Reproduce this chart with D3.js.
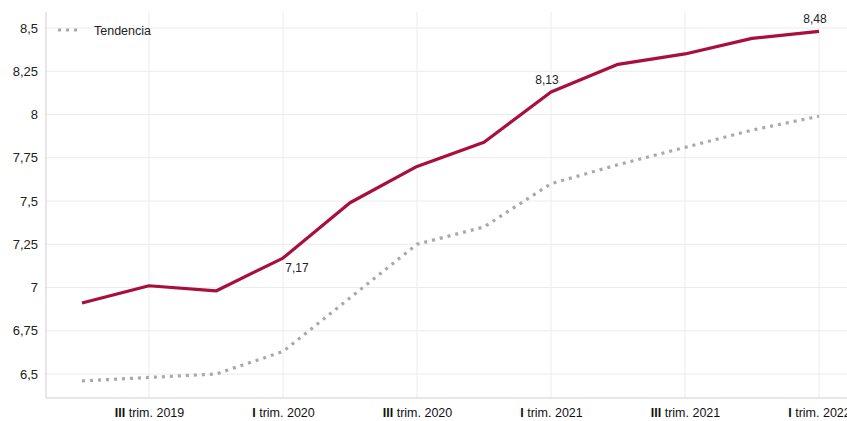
<!DOCTYPE html>
<html><head><meta charset="utf-8">
<script src="https://cdn.jsdelivr.net/npm/d3@7"></script>
<style>body{margin:0;background:#fff}svg{display:block;font-family:"Liberation Sans",Arial,sans-serif}</style>
</head><body><svg id="c" width="847" height="421"></svg>
<script>
const periods = ["II trim. 2019","III trim. 2019","IV trim. 2019","I trim. 2020","II trim. 2020","III trim. 2020","IV trim. 2020","I trim. 2021","II trim. 2021","III trim. 2021","IV trim. 2021","I trim. 2022"];
const valores = [6.91,7.01,6.98,7.17,7.49,7.70,7.84,8.13,8.29,8.35,8.44,8.48];
const tendencia = [6.46,6.48,6.50,6.63,6.94,7.25,7.35,7.60,7.71,7.81,7.91,7.99];
const yTicks = [6.5,6.75,7,7.25,7.5,7.75,8,8.25,8.5];
const xTickLabels = ["III trim. 2019","I trim. 2020","III trim. 2020","I trim. 2021","III trim. 2021","I trim. 2022"];
const labeled = {"I trim. 2020":"below","I trim. 2021":"above","I trim. 2022":"above"};

(function(){
const svg = d3.select("#c");
const mL = 46, mR = 847, mT = 12, mB = 398;
const x = d3.scalePoint().domain(periods).range([82, 819]);
const y = d3.scaleLinear().domain([6.5, 8.5]).range([374, 28]);
const fmt = v => String(v).replace(".", ",");

// horizontal grid
svg.append("g").selectAll("line").data(yTicks).join("line")
  .attr("x1", mL).attr("x2", mR).attr("y1", d => y(d)).attr("y2", d => y(d))
  .attr("stroke", "#ececec").attr("stroke-width", 1);
// vertical grid
svg.append("g").selectAll("line").data(xTickLabels).join("line")
  .attr("x1", d => x(d)).attr("x2", d => x(d)).attr("y1", mT).attr("y2", mB)
  .attr("stroke", "#ececec").attr("stroke-width", 1);

// axes
const yAxis = svg.append("g").attr("transform", `translate(${mL},0)`)
  .call(d3.axisLeft(y).tickValues(yTicks).tickFormat(fmt).tickSize(0).tickPadding(8));
yAxis.select(".domain").remove();
yAxis.selectAll("text").attr("font-size", 13).attr("fill", "#222").attr("font-family", "Liberation Sans, Arial, sans-serif");
svg.append("line").attr("x1", mL).attr("x2", mL).attr("y1", mT).attr("y2", mB).attr("stroke", "#cfcfcf");
svg.append("line").attr("x1", mL).attr("x2", mR).attr("y1", mB).attr("y2", mB).attr("stroke", "#cfcfcf");

const xAxis = svg.append("g").attr("transform", `translate(0,${mB})`)
  .call(d3.axisBottom(x).tickValues(xTickLabels).tickSize(0).tickPadding(10));
xAxis.select(".domain").remove();
xAxis.selectAll("text").attr("font-size", 12.5).attr("fill", "#111").attr("font-family", "Liberation Sans, Arial, sans-serif")
  .each(function(d){
    const t = d3.select(this); t.text(null);
    const parts = d.split(" ");
    t.append("tspan").attr("font-weight", "bold").text(parts[0]);
    t.append("tspan").text(" " + parts.slice(1).join(" "));
  });

// lines
const line = d3.line().x((d,i) => x(periods[i])).y(d => y(d));
svg.append("path").datum(tendencia).attr("d", line).attr("fill", "none")
  .attr("stroke", "#a9a9a9").attr("stroke-width", 3.2).attr("stroke-dasharray", "3 5");
svg.append("path").datum(valores).attr("d", line).attr("fill", "none")
  .attr("stroke", "#a80f3d").attr("stroke-width", 3.2).attr("stroke-linejoin", "round");

// data labels
svg.append("g").selectAll("text").data(periods.filter(p => labeled[p])).join("text")
  .attr("x", p => x(p) + (labeled[p] === "below" ? 14 : -4))
  .attr("y", p => { const v = valores[periods.indexOf(p)]; return labeled[p] === "below" ? y(v) + 14 : y(v) - 8; })
  .attr("text-anchor", "middle").attr("font-size", 12).attr("fill", "#222")
  .text(p => fmt(valores[periods.indexOf(p)]));

// legend
svg.append("line").attr("x1", 58).attr("x2", 82).attr("y1", 30).attr("y2", 30)
  .attr("stroke", "#a9a9a9").attr("stroke-width", 3.2).attr("stroke-dasharray", "3 5");
svg.append("text").attr("x", 94).attr("y", 34.5).attr("font-size", 12.5).attr("fill", "#222").text("Tendencia");
})();
</script></body></html>
